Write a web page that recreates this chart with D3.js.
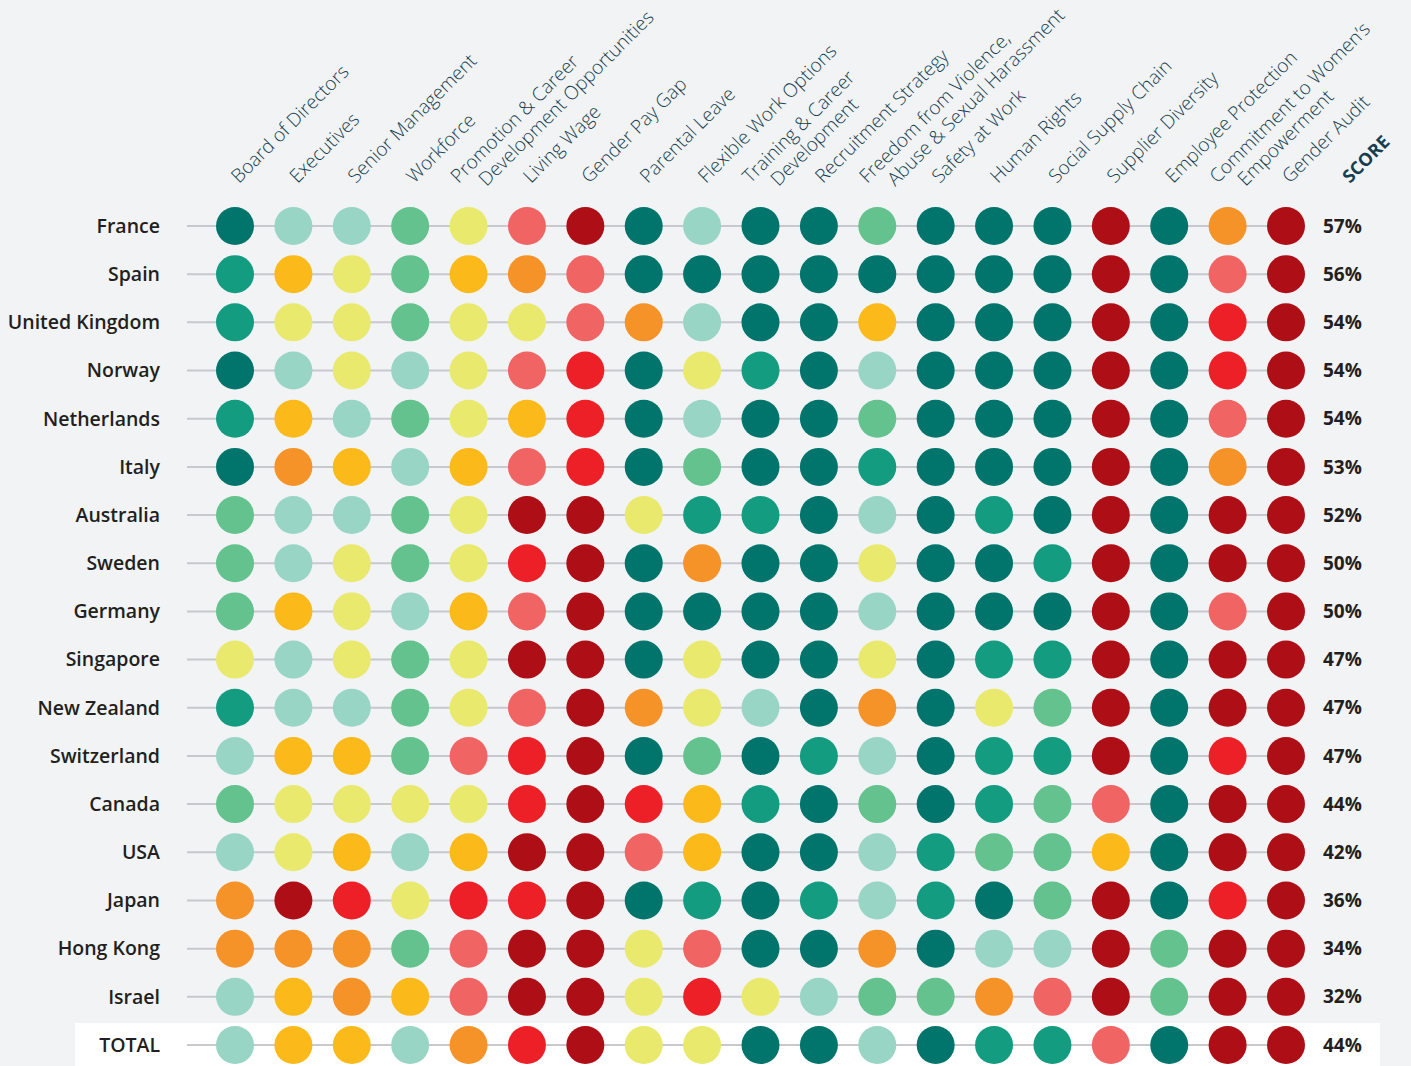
<!DOCTYPE html>
<html>
<head>
<meta charset="utf-8">
<script src="https://cdn.jsdelivr.net/npm/d3@7"></script>
<style>
  body { margin: 0; background: #f1f3f5; }
  svg { display: block; }
</style>
</head>
<body>
<div id="chart"></div>
<script>
// column headers (one entry per column, multi-line labels split into lines)
const indicators = [
    ["Board of Directors"],
    ["Executives"],
    ["Senior Management"],
    ["Workforce"],
    ["Promotion & Career", "Development Opportunities"],
    ["Living Wage"],
    ["Gender Pay Gap"],
    ["Parental Leave"],
    ["Flexible Work Options"],
    ["Training & Career", "Development"],
    ["Recruitment Strategy"],
    ["Freedom from Violence,", "Abuse & Sexual Harassment"],
    ["Safety at Work"],
    ["Human Rights"],
    ["Social Supply Chain"],
    ["Supplier Diversity"],
    ["Employee Protection"],
    ["Commitment to Women\u2019s", "Empowerment"],
    ["Gender Audit"]
];

const countries = ["France", "Spain", "United Kingdom", "Norway", "Netherlands", "Italy",
    "Australia", "Sweden", "Germany", "Singapore", "New Zealand", "Switzerland",
    "Canada", "USA", "Japan", "Hong Kong", "Israel", "TOTAL"];

const scores = ["57%", "56%", "54%", "54%", "54%", "53%", "52%", "50%", "50%", "47%",
    "47%", "47%", "44%", "42%", "36%", "34%", "32%", "44%"];

// rating level per country and indicator, 10 = best, 1 = worst
const ratings = [
    [10, 7, 7, 8, 6, 3, 1, 10, 7, 10, 10, 8, 10, 10, 10, 1, 10, 4, 1],
    [9, 5, 6, 8, 5, 4, 3, 10, 10, 10, 10, 10, 10, 10, 10, 1, 10, 3, 1],
    [9, 6, 6, 8, 6, 6, 3, 4, 7, 10, 10, 5, 10, 10, 10, 1, 10, 2, 1],
    [10, 7, 6, 7, 6, 3, 2, 10, 6, 9, 10, 7, 10, 10, 10, 1, 10, 2, 1],
    [9, 5, 7, 8, 6, 5, 2, 10, 7, 10, 10, 8, 10, 10, 10, 1, 10, 3, 1],
    [10, 4, 5, 7, 5, 3, 2, 10, 8, 10, 10, 9, 10, 10, 10, 1, 10, 4, 1],
    [8, 7, 7, 8, 6, 1, 1, 6, 9, 9, 10, 7, 10, 9, 10, 1, 10, 1, 1],
    [8, 7, 6, 8, 6, 2, 1, 10, 4, 10, 10, 6, 10, 10, 9, 1, 10, 1, 1],
    [8, 5, 6, 7, 5, 3, 1, 10, 10, 10, 10, 7, 10, 10, 10, 1, 10, 3, 1],
    [6, 7, 6, 8, 6, 1, 1, 10, 6, 10, 10, 6, 10, 9, 9, 1, 10, 1, 1],
    [9, 7, 7, 8, 6, 3, 1, 4, 6, 7, 10, 4, 10, 6, 8, 1, 10, 1, 1],
    [7, 5, 5, 8, 3, 2, 1, 10, 8, 10, 9, 7, 10, 9, 9, 1, 10, 2, 1],
    [8, 6, 6, 6, 6, 2, 1, 2, 5, 9, 10, 8, 10, 9, 8, 3, 10, 1, 1],
    [7, 6, 5, 7, 5, 1, 1, 3, 5, 10, 10, 7, 9, 8, 8, 5, 10, 1, 1],
    [4, 1, 2, 6, 2, 2, 1, 10, 9, 10, 9, 7, 9, 10, 8, 1, 10, 2, 1],
    [4, 4, 4, 8, 3, 1, 1, 6, 3, 10, 10, 4, 10, 7, 7, 1, 8, 1, 1],
    [7, 5, 4, 5, 3, 1, 1, 6, 2, 6, 7, 8, 8, 4, 3, 1, 8, 1, 1],
    [7, 5, 5, 7, 4, 2, 1, 6, 6, 10, 10, 7, 10, 9, 9, 3, 10, 1, 1]
];

const levels = [10, 9, 8, 7, 6, 5, 4, 3, 2, 1];
const levelColors = ["#01756c", "#149c81", "#63c28d", "#98d5c5", "#e9e96d",
    "#fbb91a", "#f69328", "#f16464", "#ed1f27", "#ae0e16"];

const width = 1411;
const height = 1066;

const svg = d3.select("#chart")
    .append("svg")
    .attr("width", width)
    .attr("height", height);

svg.append("rect")
    .attr("width", width)
    .attr("height", height)
    .attr("fill", "#f1f3f5");

const x = d3.scalePoint()
    .domain(d3.range(indicators.length))
    .range([235, 1286]);

const y = d3.scalePoint()
    .domain(countries)
    .range([226, 1045]);

const color = d3.scaleOrdinal()
    .domain(levels)
    .range(levelColors);

// white band behind the total row
svg.append("rect")
    .attr("x", 75)
    .attr("y", y("TOTAL") - 22)
    .attr("width", 1305)
    .attr("height", 44)
    .attr("fill", "#ffffff");

// column headers
const headerFont = "'Open Sans', sans-serif";
const header = svg.append("g");
indicators.forEach((lines, i) => {
    const offsets = lines.length === 1 ? [[4, 184]] : [[-10, 184], [18, 187]];
    lines.forEach((line, j) => {
        const px = x(i) + offsets[j][0];
        const py = offsets[j][1];
        header.append("text")
            .attr("transform", `translate(${px},${py}) rotate(-45)`)
            .attr("font-family", headerFont)
            .attr("font-weight", 300)
            .attr("font-size", 19)
            .attr("fill", "#163d50")
            .text(line);
    });
});

header.append("text")
    .attr("transform", `translate(${x(indicators.length - 1) + 64},184) rotate(-45)`)
    .attr("font-family", headerFont)
    .attr("font-weight", 700)
    .attr("font-size", 18)
    .attr("fill", "#163d50")
    .text("SCORE");

// rows
const row = svg.selectAll(".row")
    .data(countries)
    .enter()
    .append("g")
    .attr("class", "row")
    .attr("transform", d => `translate(0,${y(d)})`);

row.append("line")
    .attr("x1", 187)
    .attr("x2", x(indicators.length - 1))
    .attr("stroke", "#c8c9cc")
    .attr("stroke-width", 2);

row.append("text")
    .attr("x", 160)
    .attr("dy", "0.35em")
    .attr("text-anchor", "end")
    .attr("font-family", headerFont)
    .attr("font-weight", 600)
    .attr("font-size", 19.5)
    .attr("fill", "#231f20")
    .text(d => d);

row.selectAll("circle")
    .data((d, i) => ratings[i])
    .enter()
    .append("circle")
    .attr("cx", (d, i) => x(i))
    .attr("r", 19)
    .attr("fill", d => color(d));

row.append("text")
    .attr("x", 1323)
    .attr("dy", "0.35em")
    .attr("font-family", headerFont)
    .attr("font-weight", 700)
    .attr("font-size", 19)
    .attr("fill", "#231f20")
    .text((d, i) => scores[i]);
</script>
</body>
</html>
